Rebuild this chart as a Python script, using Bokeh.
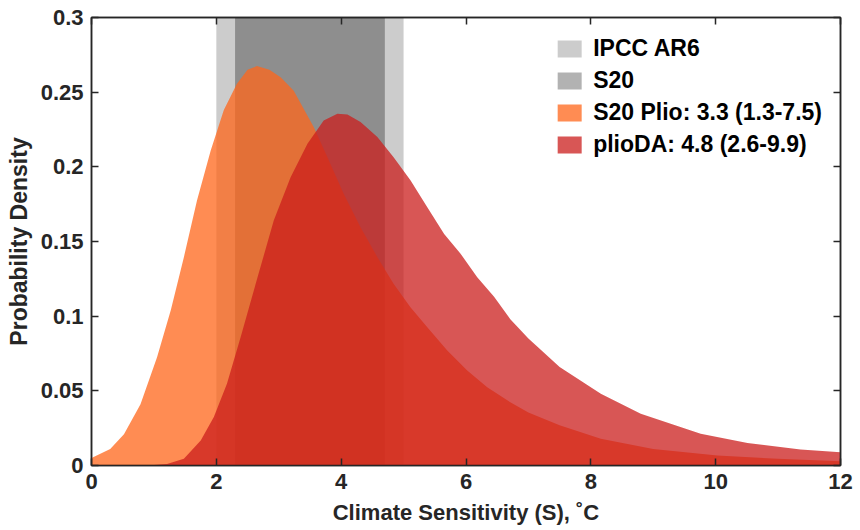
from bokeh.plotting import figure
from bokeh.models import Range1d, LinearAxis, Legend, LegendItem, FixedTicker
from bokeh.embed import file_html
from bokeh.resources import INLINE

# ---- data ----
ipcc_range = [2.0, 5.0]
s20_range = [2.3, 4.7]

plio_x = [0, 0.3, 0.52, 0.785, 1.05, 1.27, 1.48, 1.69, 1.91, 2.12, 2.33, 2.5, 2.65,
          2.85, 3.03, 3.24, 3.56, 3.78, 4.04, 4.31, 4.58, 4.84, 5.11, 5.38, 5.70,
          6.02, 6.34, 6.71, 7.0, 7.5, 8.16, 9.0, 10.03, 11.0, 12.0]
plio_y = [0.005, 0.011, 0.021, 0.041, 0.0725, 0.104, 0.1395, 0.1775, 0.211, 0.238,
          0.2557, 0.265, 0.2675, 0.265, 0.260, 0.251, 0.2266, 0.2065, 0.182, 0.1596,
          0.1395, 0.1217, 0.106, 0.0926, 0.077, 0.0636, 0.0524, 0.0424, 0.0355,
          0.027, 0.0179, 0.011, 0.0067, 0.0045, 0.0029]

da_x = [0, 0.5, 1.0, 1.21, 1.48, 1.75, 1.96, 2.17, 2.39, 2.66, 2.92, 3.19, 3.46,
        3.72, 3.94, 4.1, 4.31, 4.58, 4.84, 5.11, 5.38, 5.65, 5.91, 6.18, 6.45,
        6.71, 7.0, 7.5, 8.16, 8.8, 9.76, 10.51, 11.36, 12.0]
da_y = [0, 0, 0.0003, 0.001, 0.0045, 0.0167, 0.0324, 0.0547, 0.086, 0.126, 0.164,
        0.193, 0.2155, 0.231, 0.2356, 0.235, 0.230, 0.220, 0.2065, 0.191, 0.173,
        0.155, 0.142, 0.126, 0.113, 0.098, 0.085, 0.066, 0.048, 0.0346, 0.0212,
        0.015, 0.0107, 0.0089]

x_ticks = [0, 2, 4, 6, 8, 10, 12]
y_ticks = [0, 0.05, 0.1, 0.15, 0.2, 0.25, 0.3]
y_tick_labels = ["0", "0.05", "0.1", "0.15", "0.2", "0.25", "0.3"]
labels = ["IPCC AR6", "S20", "S20 Plio: 3.3 (1.3-7.5)", "plioDA: 4.8 (2.6-9.9)"]

FONT = "Liberation Sans"
DARK = "#262626"

p = figure(width=854, height=528, output_backend="svg", toolbar_location=None,
           x_range=Range1d(0, 12), y_range=Range1d(0, 0.3),
           min_border_left=91, min_border_right=14, min_border_top=17,
           min_border_bottom=63)
p.grid.visible = False
p.outline_line_color = DARK
p.outline_line_width = 1.5
p.background_fill_color = "white"

r_ipcc = p.quad(left=[ipcc_range[0]], right=[ipcc_range[1]], bottom=[0], top=[0.3],
                fill_color="black", fill_alpha=0.2, line_alpha=0)
r_s20 = p.quad(left=[s20_range[0]], right=[s20_range[1]], bottom=[0], top=[0.3],
               fill_color="black", fill_alpha=0.3, line_alpha=0)
r_plio = p.varea(x=plio_x, y1=[0] * len(plio_x), y2=plio_y,
                 fill_color="#ff6619", fill_alpha=0.75)
r_da = p.varea(x=da_x, y1=[0] * len(da_x), y2=da_y,
               fill_color="#cb1d1c", fill_alpha=0.75)

def style_axis(ax, show_labels=True):
    ax.axis_line_color = DARK
    ax.axis_line_width = 1.5
    ax.major_tick_line_color = DARK
    ax.major_tick_line_width = 1.5
    ax.major_tick_in = 7
    ax.major_tick_out = 0
    ax.minor_tick_line_color = None
    ax.major_label_text_font = FONT
    ax.major_label_text_font_style = "bold"
    ax.major_label_text_font_size = "22px"
    ax.major_label_text_color = DARK
    ax.axis_label_text_font = FONT
    ax.axis_label_text_font_style = "bold"
    ax.axis_label_text_font_size = "22px"
    ax.axis_label_text_color = DARK
    if not show_labels:
        ax.major_label_text_alpha = 0
        ax.major_label_text_font_size = "1px"
        ax.major_label_standoff = 0

p.xaxis.ticker = FixedTicker(ticks=x_ticks)
p.yaxis.ticker = FixedTicker(ticks=y_ticks)
p.yaxis.major_label_overrides = {t: l for t, l in zip(y_ticks, y_tick_labels)}
p.xaxis.axis_label = "Climate Sensitivity (S), \u02daC"
p.yaxis.axis_label = "Probability Density"
style_axis(p.xaxis[0])
style_axis(p.yaxis[0])
p.yaxis.axis_label_text_font_size = "23px"
p.xaxis.major_label_standoff = 8
p.yaxis.major_label_standoff = 8
p.xaxis.axis_label_standoff = 8
p.yaxis.axis_label_standoff = 6

top_ax = LinearAxis(ticker=FixedTicker(ticks=x_ticks))
right_ax = LinearAxis(ticker=FixedTicker(ticks=y_ticks))
style_axis(top_ax, False)
style_axis(right_ax, False)
p.add_layout(top_ax, "above")
p.add_layout(right_ax, "right")

legend = Legend(items=[LegendItem(label=labels[0], renderers=[r_ipcc]),
                       LegendItem(label=labels[1], renderers=[r_s20]),
                       LegendItem(label=labels[2], renderers=[r_plio]),
                       LegendItem(label=labels[3], renderers=[r_da])],
                location="top_right")
legend.background_fill_alpha = 0
legend.border_line_color = None
legend.label_text_font = FONT
legend.label_text_font_style = "bold"
legend.label_text_font_size = "23px"
legend.label_text_color = "black"
legend.glyph_width = 30
legend.glyph_height = 21
legend.label_height = 21
legend.spacing = 5
legend.label_standoff = 9
legend.margin = 18
legend.padding = 9
p.add_layout(legend)

open("out.html", "w").write(file_html(p, INLINE))
